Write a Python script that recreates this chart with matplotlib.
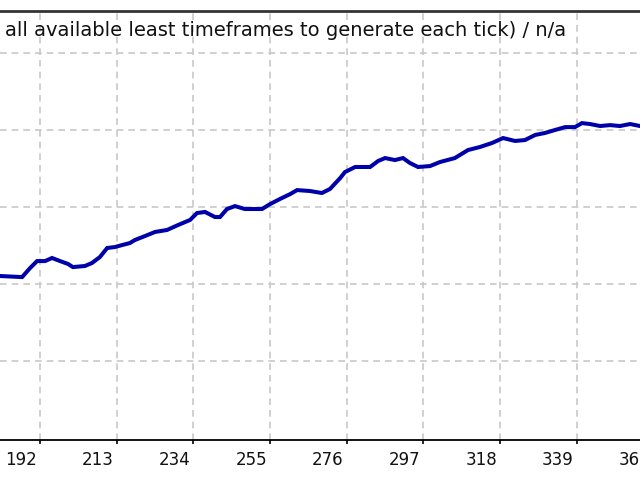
import matplotlib.pyplot as plt
import matplotlib.transforms as mtransforms

# balance curve (trade number, balance)
trades = [181.0, 187.1, 189.3, 191.2, 193.4, 195.3, 197.5, 199.7, 201.0, 204.3,
          206.2, 208.4, 210.4, 212.5, 214.5, 216.6, 218.0, 220.8, 223.5, 226.8,
          229.8, 233.1, 235.0, 237.2, 239.9, 241.3, 243.2, 245.4, 248.1, 250.9,
          252.8, 255.0, 257.7, 260.5, 262.4, 265.9, 269.2, 271.4, 274.2, 275.5,
          278.3, 282.4, 284.6, 286.5, 289.2, 291.4, 293.3, 295.5, 298.8, 301.5,
          305.6, 309.2, 312.5, 315.8, 318.8, 322.1, 324.8, 327.6, 330.3, 333.0,
          335.8, 338.5, 340.4, 342.6, 345.4, 348.1, 350.8, 353.6, 356.3]
balance = [10552, 10545, 10604, 10649, 10649, 10669, 10649, 10630, 10610, 10617,
           10636, 10675, 10734, 10740, 10753, 10766, 10786, 10812, 10838, 10851,
           10883, 10916, 10961, 10968, 10935, 10935, 10987, 11006, 10987, 10987,
           10987, 11019, 11052, 11084, 11110, 11104, 11091, 11117, 11188, 11227,
           11260, 11260, 11299, 11318, 11305, 11318, 11286, 11260, 11266, 11292,
           11318, 11370, 11390, 11416, 11448, 11429, 11435, 11468, 11481, 11500,
           11519, 11519, 11545, 11539, 11526, 11532, 11526, 11539, 11526]

x_ticks = [192, 213, 234, 255, 276, 297, 318, 339]
cut_tick = 360  # its label is partly cut off at the right edge
y_grid = [10000, 10500, 11000, 11500, 12000]
header = "all available least timeframes to generate each tick) / n/a"

fig = plt.figure(figsize=(6.4, 4.8), dpi=100)
ax = fig.add_axes([0.0, 40 / 480, 1.0, 429 / 480])

ax.plot(trades, balance, color='#0000aa', linewidth=2.9, solid_joinstyle='miter')

ax.set_xticks(x_ticks)
ax.set_xticklabels([str(t) for t in x_ticks], fontsize=12, color='#111111')
ax.set_yticks(y_grid)
ax.set_xlim(181.05, 356.3)
ax.set_ylim(9487, 12273)
ax.tick_params(axis='y', left=False, labelleft=False)
ax.tick_params(axis='x', direction='out', length=3, width=1.2, pad=5, color='black')

offset = mtransforms.ScaledTranslation(-3 / 100, 0, fig.dpi_scale_trans)
for lbl in ax.get_xticklabels():
    lbl.set_horizontalalignment('right')
    lbl.set_transform(lbl.get_transform() + offset)

ax.annotate(str(cut_tick), xy=(cut_tick, 0), xycoords=('data', 'axes fraction'),
            xytext=(-2.16, -8), textcoords='offset points', ha='right', va='top',
            fontsize=12, color='#111111', annotation_clip=False)

ax.grid(True, color='#c8c8c8', linestyle=(0, (4, 3)), linewidth=1.2)
ax.set_axisbelow(True)

ax.spines['left'].set_visible(False)
ax.spines['right'].set_visible(False)
ax.spines['top'].set_color('#333333')
ax.spines['top'].set_linewidth(2)
ax.spines['bottom'].set_color('black')
ax.spines['bottom'].set_linewidth(1.3)

ax.text(5 / 640, 1 - 20 / 429, header, transform=ax.transAxes, fontsize=14,
        ha='left', va='center', color='#111111')

fig.savefig('out.png', dpi=100)
